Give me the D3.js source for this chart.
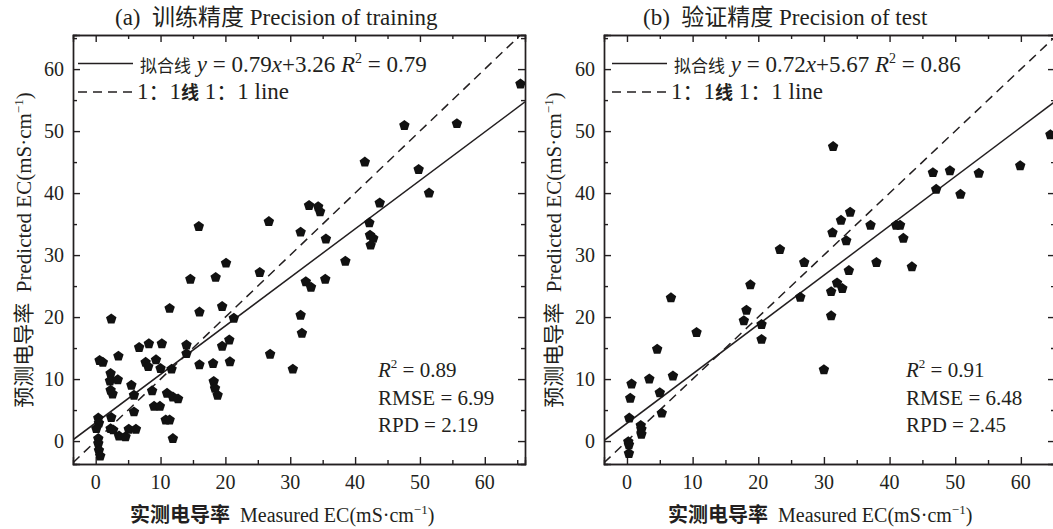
<!DOCTYPE html>
<html><head><meta charset="utf-8">
<script src="https://cdn.jsdelivr.net/npm/d3@7"></script>
<style>
body{margin:0;background:#fff;}
svg{display:block;}
text{font-family:"Liberation Serif","Noto Sans CJK SC",serif;fill:#231f20;white-space:pre;}
.cjk{font-family:"Noto Sans CJK SC",sans-serif;}
</style></head>
<body>
<svg id="c" width="1053" height="529"></svg>
<script>
// ---- data ----
const trainMeasured = [65.5,55.7,47.6,41.5,49.8,51.4,43.8,32.9,34.3,34.6,26.7,31.6,35.5,42.2,42.3,42.8,42.4,38.5,20.1,25.3,32.4,33.2,35.4,21.3,31.6,31.8,19.5,20.6,20.7,26.9,30.4,15.9,14.6,18.5,2.4,11.4,16.0,19.5,6.7,8.2,10.2,14.0,14.0,3.5,0.6,1.1,7.7,8.1,9.3,10.0,11.7,16.0,18.1,2.3,2.2,3.4,5.5,2.3,2.6,5.9,8.7,11.0,11.9,12.7,9.0,9.9,5.9,0.4,0.5,2.4,0.1,2.3,2.7,3.6,4.6,5.1,6.2,10.8,11.4,11.9,0.4,0.4,0.5,0.7,18.2,18.4,18.8];
const trainPredicted = [57.6,51.2,50.9,45.0,43.8,40.0,38.4,38.0,37.8,37.0,35.4,33.7,32.6,35.2,33.2,32.7,31.6,29.0,28.7,27.2,25.7,24.8,26.1,19.8,20.3,17.4,15.3,16.3,12.8,14.0,11.6,34.6,26.1,26.4,19.7,21.4,20.8,21.7,15.1,15.7,15.7,15.5,14.1,13.7,13.0,12.7,12.7,12.0,13.1,11.7,11.6,12.3,12.5,10.9,9.7,9.9,9.0,8.2,7.6,7.4,8.1,7.7,7.1,6.8,5.6,5.6,4.7,3.7,2.9,3.8,2.0,2.0,1.8,0.8,0.7,1.9,1.9,3.4,3.4,0.4,0.4,-0.4,-1.5,-2.4,9.6,8.5,7.4];
const testMeasured = [64.5,59.9,53.6,49.2,46.6,47.1,50.8,31.4,34.0,32.6,31.3,33.4,37.1,41.0,41.6,42.1,23.3,27.0,38.0,43.4,33.8,32.0,32.8,31.1,26.4,31.1,18.8,6.7,18.2,17.8,20.5,20.5,10.6,4.6,3.4,7.0,0.7,0.5,5.0,5.3,0.35,2.1,2.2,2.2,0.2,0.3,0.3,30.0];
const testPredicted = [49.4,44.4,43.2,43.6,43.3,40.6,39.8,47.5,36.9,35.6,33.6,32.3,34.8,34.8,34.8,32.7,30.9,28.8,28.8,28.1,27.5,25.5,24.6,24.1,23.2,20.2,25.2,23.1,21.1,19.4,18.8,16.4,17.5,14.8,10.0,10.5,9.2,6.9,7.8,4.5,3.7,2.5,1.9,1.1,-0.1,-0.6,-2.0,11.5];
const tickValues = [0,10,20,30,40,50,60];
const minorTicks = [5,15,25,35,45,55,65];
// equation text as printed in the legend
const fitTextA = ["0.79","3.26","0.79"];
const fitTextB = ["0.72","5.67","0.86"];
// fitted line as drawn in the picture (slope, intercept)
const fitDrawnA = [0.782, 2.94];
const fitDrawnB = [0.796, 2.87];
const statsA = ["0.89","6.99","2.19"];
const statsB = ["0.91","6.48","2.45"];
const titles = ["训练精度 Precision of training","验证精度 Precision of test"];
const tags = ["(a)","(b)"];

const svg = d3.select("#c");
const ink = "#231f20";

function pentagon(r){
  const pts = d3.range(5).map(i=>{const a=-Math.PI/2+i*2*Math.PI/5;return [r*Math.cos(a),r*Math.sin(a)];});
  return d3.line()(pts)+"Z";
}

function panel(cfg){
  const g = svg.append("g");
  const x = d3.scaleLinear().domain(cfg.xdom).range([cfg.left,cfg.right]);
  const y = d3.scaleLinear().domain([-3.7,65.5]).range([464,35]);
  const clipId = "clip"+cfg.id;
  svg.append("clipPath").attr("id",clipId).append("rect")
    .attr("x",cfg.left).attr("y",35).attr("width",cfg.right-cfg.left).attr("height",429);

  const sw = 1.4;
  const mk = (fn,sc,vals,size)=>fn(sc).tickValues(vals).tickSize(size).tickFormat("");
  [[mk(d3.axisTop,x,tickValues,7),`translate(0,464)`],[mk(d3.axisTop,x,minorTicks,4),`translate(0,464)`],
   [mk(d3.axisBottom,x,tickValues,7),`translate(0,35)`],[mk(d3.axisBottom,x,minorTicks,4),`translate(0,35)`],
   [mk(d3.axisRight,y,tickValues,7),`translate(${cfg.left},0)`],[mk(d3.axisRight,y,minorTicks,4),`translate(${cfg.left},0)`],
   [mk(d3.axisLeft,y,tickValues,7),`translate(${cfg.right},0)`],[mk(d3.axisLeft,y,minorTicks,4),`translate(${cfg.right},0)`]]
   .forEach(([ax,tr])=>{
     const a = g.append("g").attr("transform",tr).call(ax);
     a.selectAll("path.domain").attr("stroke",ink).attr("stroke-width",sw);
     a.selectAll("line").attr("stroke",ink).attr("stroke-width",sw);
   });

  // tick labels
  g.selectAll(".xl").data(tickValues).join("text")
    .attr("x",d=>x(d)).attr("y",489).attr("text-anchor","middle").attr("font-size",20).text(d=>d);
  g.selectAll(".yl").data(tickValues).join("text")
    .attr("x",cfg.left-9).attr("y",d=>y(d)+7).attr("text-anchor","end").attr("font-size",20).text(d=>d);

  // lines
  const pl = g.append("g").attr("clip-path",`url(#${clipId})`);
  const xs = cfg.xdom;
  const line = d3.line().x(d=>x(d[0])).y(d=>y(d[1]));
  pl.append("path").attr("d",line(xs.map(v=>[v,v]))).attr("stroke",ink).attr("stroke-width",1.5)
    .attr("stroke-dasharray","9,6").attr("fill","none");
  pl.append("path").attr("d",line(xs.map(v=>[v,cfg.fit[0]*v+cfg.fit[1]]))).attr("stroke",ink)
    .attr("stroke-width",1.5).attr("fill","none");

  // points
  const pent = pentagon(5.5);
  pl.selectAll(".pt").data(cfg.mx.map((v,i)=>[v,cfg.my[i]])).join("path")
    .attr("d",pent).attr("transform",d=>`translate(${x(d[0])},${y(d[1])})`).attr("fill","#111");

  // legend
  const lx = cfg.legX;
  g.append("line").attr("x1",lx).attr("x2",lx+55).attr("y1",63.5).attr("y2",63.5).attr("stroke",ink).attr("stroke-width",1.5);
  g.append("line").attr("x1",lx).attr("x2",lx+57).attr("y1",92).attr("y2",92).attr("stroke",ink).attr("stroke-width",1.5).attr("stroke-dasharray","9,6");
  const t1 = g.append("text").attr("x",lx+62).attr("y",72).attr("font-size",23);
  t1.append("tspan").attr("class","cjk").attr("font-size",17).text("拟合线");
  t1.append("tspan").text(" ");
  t1.append("tspan").attr("font-style","italic").text("y");
  t1.append("tspan").text(` = ${cfg.fitText[0]}`);
  t1.append("tspan").attr("font-style","italic").text("x");
  t1.append("tspan").text(`+${cfg.fitText[1]} `);
  t1.append("tspan").attr("font-style","italic").text("R");
  t1.append("tspan").attr("font-size",14).attr("dy",-9).text("2");
  t1.append("tspan").attr("dy",9).text(` = ${cfg.fitText[2]}`);
  const t2 = g.append("text").attr("x",lx+59).attr("y",99).attr("font-size",23);
  t2.append("tspan").text("1");
  t2.append("tspan").attr("class","cjk").attr("font-size",21).text("：");
  t2.append("tspan").text("1");
  t2.append("tspan").attr("class","cjk").attr("font-size",18).attr("font-weight","bold").text("线");
  t2.append("tspan").text(" 1");
  t2.append("tspan").attr("class","cjk").attr("font-size",21).text("：");
  t2.append("tspan").text("1 line");

  // stats
  const sx = cfg.statsX;
  const s1 = g.append("text").attr("x",sx).attr("y",377).attr("font-size",21);
  s1.append("tspan").attr("font-style","italic").text("R");
  s1.append("tspan").attr("font-size",13).attr("dy",-9).text("2");
  s1.append("tspan").attr("dy",9).text(` = ${cfg.stats[0]}`);
  g.append("text").attr("x",sx).attr("y",405).attr("font-size",21).text(`RMSE = ${cfg.stats[1]}`);
  g.append("text").attr("x",sx).attr("y",432).attr("font-size",21).text(`RPD = ${cfg.stats[2]}`);

  // title
  const tt = g.append("text").attr("x",cfg.titleX).attr("y",25).attr("font-size",23);
  tt.append("tspan").text(cfg.tag+"  ");
  tt.append("tspan").text(cfg.title);

  // x label
  const xl = g.append("text").attr("x",cfg.xlabX).attr("y",522).attr("font-size",20);
  xl.append("tspan").attr("font-weight","bold").text("实测电导率");
  xl.append("tspan").text("  Measured EC(mS·cm");
  xl.append("tspan").attr("font-size",13).attr("dy",-8).text("−1");
  xl.append("tspan").attr("dy",8).text(")");

  // y label
  const yl = g.append("text").attr("transform",`translate(${cfg.ylabX},250) rotate(-90)`).attr("text-anchor","middle").attr("font-size",21);
  yl.append("tspan").text("预测电导率  Predicted EC(mS·cm");
  yl.append("tspan").attr("font-size",13).attr("dy",-8).text("−1");
  yl.append("tspan").attr("dy",8).text(")");
}

panel({id:"a",left:73,right:525,xdom:[-3.5,66.2],mx:trainMeasured,my:trainPredicted,fit:fitDrawnA,fitText:fitTextA,stats:statsA,statsX:378,
  title:titles[0],tag:tags[0],titleX:115,xlabX:130,ylabX:31,legX:78});
panel({id:"b",left:604,right:1055,xdom:[-3.5,65.2],mx:testMeasured,my:testPredicted,fit:fitDrawnB,fitText:fitTextB,stats:statsB,statsX:906,
  title:titles[1],tag:tags[1],titleX:643,xlabX:668,ylabX:561,legX:612});
</script>
</body></html>
